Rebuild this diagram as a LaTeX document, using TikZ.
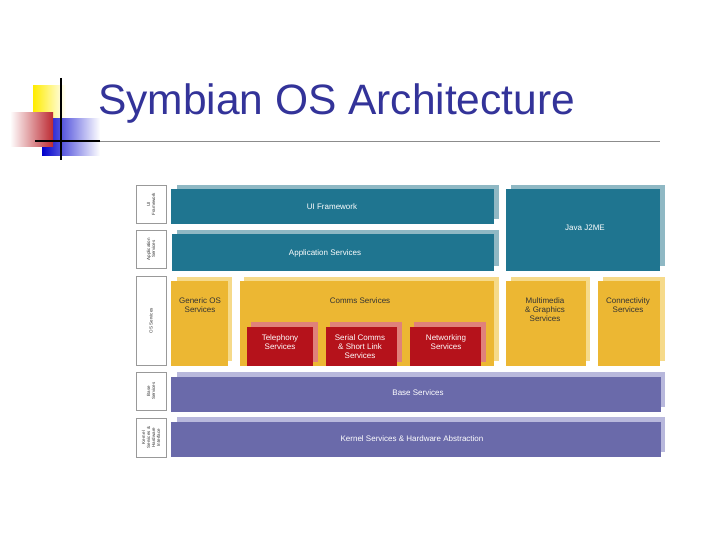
\documentclass[tikz,border=0pt]{standalone}
\usepackage{fontspec}
\setmainfont{Liberation Sans}
\begin{document}
\begin{tikzpicture}[x=1pt,y=-1pt,
 lay/.style={inner sep=0,outer sep=0},
 lbl/.style={draw=black!40,line width=0.5pt,fill=white},
 lt/.style={rotate=90,font=\fontsize{4.5}{5}\selectfont,align=center,text=black!80},
 bt/.style={text=white,font=\fontsize{8}{9}\selectfont,align=center},
 yt/.style={text=black!80,font=\fontsize{8}{9}\selectfont,align=center}]
\definecolor{teal}{HTML}{1F7590}\definecolor{tealS}{HTML}{8FB8C4}
\definecolor{yel}{HTML}{ECB733}\definecolor{yelS}{HTML}{F6DA8A}
\definecolor{red}{HTML}{B5121B}\definecolor{redS}{HTML}{E0817A}
\definecolor{pur}{HTML}{6A6AAA}\definecolor{purS}{HTML}{B8B8DC}
\definecolor{ttl}{HTML}{333399}
\useasboundingbox (0,0) rectangle (720,540);
% logo
\shade[left color=yellow!85!orange,right color=white] (33,86) rectangle (66,118);
\shade[left color=blue!80!black,right color=white] (42,119) rectangle (100,156);
\shade[left color=white,right color=red!90] (10,113) rectangle (53,147);
\draw[line width=1.8pt] (61,78) -- (61,160);
\draw[line width=1.5pt] (35,141) -- (100,141);
\draw[line width=0.6pt,black!45] (100,141) -- (660,141);
\node[lay,anchor=west,text=ttl,font=\fontsize{42.5}{44}\selectfont] (title) at (98,104) {Symbian OS Architecture};
% side labels
\node[lbl,lay,minimum width=30,minimum height=38] (l1) at (151,204) {};
\node[lt] at (l1) {UI\\Framework};
\node[lbl,lay,minimum width=30,minimum height=38] (l2) at (151,249) {};
\node[lt] at (l2) {Application\\Services};
\node[lbl,lay,minimum width=30,minimum height=89] (l3) at (151,320.5) {};
\node[lt] at (l3) {OS Services};
\node[lbl,lay,minimum width=30,minimum height=38] (l4) at (151,391) {};
\node[lt] at (l4) {Base\\Services};
\node[lbl,lay,minimum width=30,minimum height=39] (l5) at (151,437.5) {};
\node[lt] at (l5) {Kernel\\Services \&\\Hardware\\Interface};
% boxes: shadows then boxes
\fill[tealS] (177,185) rectangle (499,219);
\fill[teal] (171,189) rectangle (494,224); \node[bt] (ui) at (332,207) {UI Framework};
\fill[tealS] (177,230) rectangle (499,266);
\fill[teal] (172,234) rectangle (494,271); \node[bt] (app) at (325,253) {Application Services};
\fill[tealS] (511,185) rectangle (665,266);
\fill[teal] (506,189) rectangle (660,271); \node[bt] (java) at (585,228) {Java J2ME};
\fill[yelS] (177,277) rectangle (232,361);
\fill[yel] (171,281) rectangle (228,366); \node[yt,anchor=north] (gen) at (200,294) {Generic OS\\Services};
\fill[yelS] (244,277) rectangle (499,361);
\fill[yel] (240,281) rectangle (494,366); \node[yt,anchor=north] (comms) at (360,294) {Comms Services};
\fill[yelS] (511,277) rectangle (590,361);
\fill[yel] (506,281) rectangle (586,366); \node[yt,anchor=north] (mm) at (545,294) {Multimedia\\\& Graphics\\Services};
\fill[yelS] (603,277) rectangle (665,361);
\fill[yel] (598,281) rectangle (660,366); \node[yt,anchor=north] (conn) at (628,294) {Connectivity\\Services};
\fill[redS] (251,322) rectangle (318,362);
\fill[red] (247,327) rectangle (313,366); \node[bt,anchor=north] (tel) at (280,331) {Telephony\\Services};
\fill[redS] (330,322) rectangle (402,362);
\fill[red] (326,327) rectangle (397,366); \node[bt,anchor=north] (ser) at (360,331) {Serial Comms\\\& Short Link\\Services};
\fill[redS] (414,322) rectangle (486,362);
\fill[red] (410,327) rectangle (481,366); \node[bt,anchor=north] (net) at (446,331) {Networking\\Services};
\fill[purS] (177,372) rectangle (665,407);
\fill[pur] (171,377) rectangle (661,412); \node[bt] (base) at (418,393) {Base Services};
\fill[purS] (177,417) rectangle (665,452);
\fill[pur] (171,422) rectangle (661,457); \node[bt] (kern) at (412,439) {Kernel Services \& Hardware Abstraction};
\end{tikzpicture}
\end{document}
